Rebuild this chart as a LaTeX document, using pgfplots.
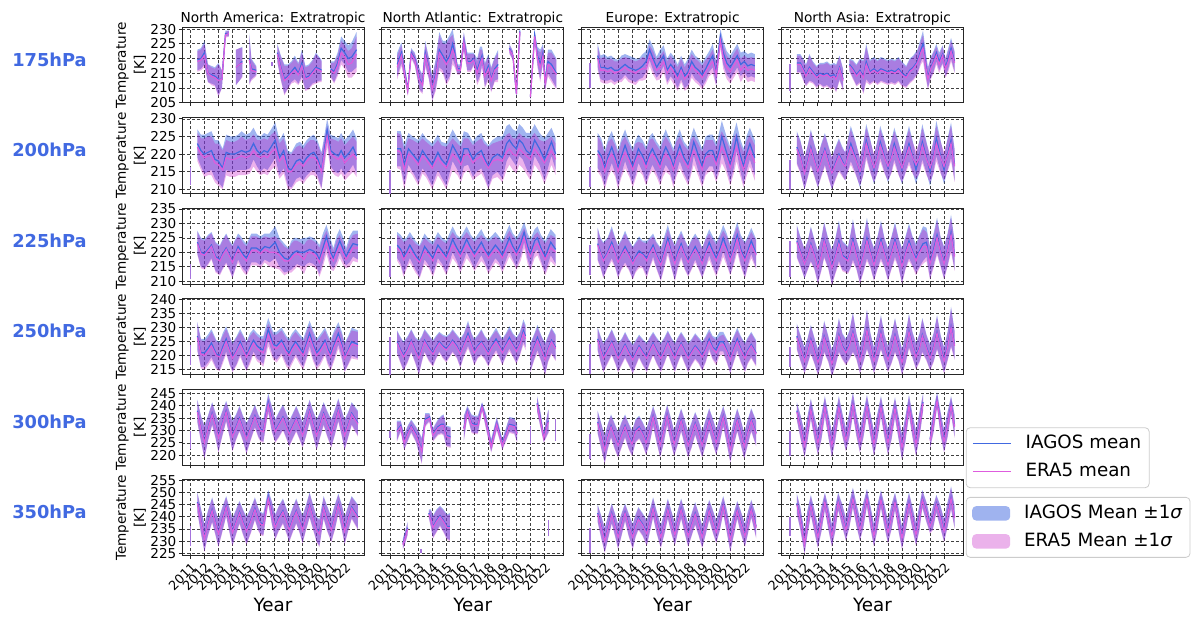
\documentclass[border=0pt]{standalone}
\usepackage{fontspec}
\setmainfont{DejaVu Sans}
\usepackage{pgfplots}
\usepackage{pgfplotstable}
\pgfplotsset{compat=1.18}
\usepgfplotslibrary{fillbetween}
\definecolor{royalblue}{RGB}{65,105,225}
\definecolor{eraline}{RGB}{222,92,222}
\definecolor{erafill}{RGB}{191,0,191}
\definecolor{spk}{RGB}{165,115,220}
\newcommand\tickfont{\fontsize{6.8pt}{8pt}\selectfont}
\newcommand\yearfont{\fontsize{6.4pt}{7pt}\selectfont}
\newcommand\titlefont{\fontsize{6.85pt}{8pt}\selectfont}
\newcommand\labfont{\fontsize{6.8pt}{9.15pt}\selectfont}
\newcommand\xlabfont{\fontsize{9.15pt}{11pt}\selectfont}
\newcommand\legfont{\fontsize{9.15pt}{11pt}\selectfont}
\newcommand\rowfont{\fontsize{8.9pt}{10pt}\selectfont\bfseries}

\newcommand{\seg}[1]{%
 \addplot[name path=ua, draw=none, forget plot] table[x=x, y expr=\thisrow{i}+\thisrow{s}] {#1};
 \addplot[name path=la, draw=none, forget plot] table[x=x, y expr=\thisrow{i}-\thisrow{s}] {#1};
 \addplot[fill=royalblue, fill opacity=0.5, forget plot] fill between[of=ua and la];
 \addplot[name path=ub, draw=none, forget plot] table[x=x, y expr=\thisrow{e}+\thisrow{s}] {#1};
 \addplot[name path=lb, draw=none, forget plot] table[x=x, y expr=\thisrow{e}-\thisrow{s}] {#1};
 \addplot[fill=erafill, fill opacity=0.3, forget plot] fill between[of=ub and lb];
 \addplot[royalblue, line width=0.6pt, forget plot] table[x=x, y=i] {#1};
 \addplot[eraline, line width=0.6pt, forget plot] table[x=x, y=e] {#1};
}
\newcommand{\spike}[3]{\addplot[spk, line width=0.8pt, forget plot] coordinates {(#1,#2) (#1,#3)};}

\pgfplotsset{
 panel/.style={
  scale only axis, width=91pt, height=37.85pt, anchor=north west,
  xmin=2010.4, xmax=2023.38,
  xtick={2011,2012,...,2022},
  xticklabels={},
  grid=major,
  major grid style={black!75, line width=0.3pt, dash pattern=on 1.5pt off 1pt},
  axis line style={black!85, line width=0.5pt},
  tick align=outside, tick pos=left, major tick length=1.6pt,
  tick style={black!85, line width=0.4pt},
  tick label style={font=\tickfont},
  /pgf/number format/assume math mode=true,
  yticklabel style={inner sep=1pt},
  every axis title/.style={at={(0.5,1)}, anchor=south, inner sep=1pt, font=\titlefont},
  every axis y label/.style={at={(axis description cs:-0.281,0.5)}, rotate=90, anchor=center, align=center, font=\labfont},
  every axis x label/.style={at={(axis description cs:0.5,-0.736)}, anchor=base, font=\xlabfont},
 },
 bottom/.style={xticklabels={2011,2012,2013,2014,2015,2016,2017,2018,2019,2020,2021,2022},
   xticklabel style={rotate=45, anchor=north east, font=\yearfont, inner sep=0.8pt}, xlabel={Year}},
 noy/.style={yticklabels={}},
 ra/.style={ymin=204.9, ymax=230.6, ytick={205,210,...,230}},
 rb/.style={ymin=208.8, ymax=230.3, ytick={210,215,...,230}},
 rc/.style={ymin=209.0, ymax=235.2, ytick={210,215,...,235}},
 rd/.style={ymin=213.2, ymax=240.3, ytick={215,220,...,240}},
 re/.style={ymin=216.0, ymax=246.6, ytick={220,225,...,245}},
 rf/.style={ymin=224.0, ymax=255.1, ytick={225,230,...,255}},
}

% ================= 175 hPa =================
\pgfplotstableread{
x i e s
2011.5 219.5 219 3.5
2011.75 220 219.5 3.5
2012.0 222 221 4
2012.25 215 215 3
2012.5 214.5 214 3
2012.75 214 213.5 3
2013.0 213 212.5 5.5
2013.25 213 213 3
2013.5 228.5 228 1
2013.75 228.5 228.5 1
}\TAax
\pgfplotstableread{
x i e s
2014.25 217 217 6
2014.5 218 218 5.5
2014.7 219 218.5 5
}\TAay
\pgfplotstableread{
x i e s
2015.2 220 219.5 8.5
2015.35 216.5 216 3.5
2015.7 216 215.5 1.5
}\TAaz
\pgfplotstableread{
x i e s
2017.2 222 221.5 3
2017.45 217 216.5 4
2017.7 213 212.5 5
2017.95 214 213.5 4
2018.2 215.5 215 3.5
2018.45 217 216 4
2018.7 215 214.5 3.5
2018.95 218.5 217.5 4.5
2019.2 213.5 213 4
2019.45 214 213.5 4
2019.7 215.5 215 4
2019.95 217 216.5 5
2020.2 216.5 216 4
2020.35 216 215.5 3.5
}\TAaw
\pgfplotstableread{
x i e s
2021.0 216.5 216 2.5
2021.25 215.5 215 3.5
2021.5 218.5 217.5 3.5
2021.75 223.5 222 4
2022.0 222 220.5 4
2022.25 220 218 4.5
2022.5 220.5 218.5 5
2022.85 223 221.5 6
}\TAav
\pgfplotstableread{
x i e s
2011.5 218 217 4
2011.8 222 221 3.5
2012.25 209.5 209 1.5
2012.5 222 221.5 1.5
2012.75 220 219.5 2
2013.1 213 212.5 3.5
2013.3 211.5 211 3
2013.5 222 221 4
2013.75 217 216.5 3.5
2014.0 210 209.5 4
2014.25 215 214 5
2014.5 223 222 6
2014.75 221 220 5
2015.0 219 218 7
2015.25 221 220 7
2015.45 225 223 5
2015.6 222 221 4
2015.8 216.5 216 1.5
2016.0 216.5 216 1.5
2016.25 226 225.5 3
2016.5 219 218.5 3
2016.75 219 218.5 3
2016.95 220 219.5 2
2017.2 216 215 4
2017.4 219 218 5
2017.55 221 220 3
2017.75 214.5 214 4
2018.0 217.5 216.5 4
2018.2 213 212.5 4
2018.45 216.5 216 4
2018.7 218 217 5
}\TBax
\pgfplotstableread{
x i e s
2019.5 223.5 223 1.5
2019.75 221 221 1.5
2020.0 208 208 1
2020.25 229.5 229 1
}\TBay
\pgfplotstableread{
x i e s
2021.0 207 207 1
2021.3 228 227.5 1.5
2021.5 221 220 3
2021.7 218 217 5
2021.9 222 221 3
2022.05 212 211.5 2.5
2022.25 219 218 4
2022.5 218 217 5
2022.85 215 214.5 5
}\TBaz
\pgfplotstableread{
x i e s
2011.55 221 220 4
2011.75 217 216 4
2012.0 217 216 4.5
2012.25 216.5 215.5 4
2012.5 217 216 4
2012.75 216 215 4
2013.0 216 215.5 3.5
2013.25 217 216 4
2013.5 218 217 3.5
2013.75 217 216 4
2014.0 216.5 215.5 4
2014.25 216 215 4
2014.5 216.5 216 3.5
2014.75 217.5 216.5 4
2015.0 219 216.5 3.5
2015.25 223 221 3.5
2015.5 220 218.5 4
2015.75 217 216 3.5
2016.0 219 217 4
2016.25 221 219 3.5
2016.5 216 215 4
2016.75 218 217 4
2017.0 216.5 215 4
2017.25 214 213 4
2017.5 217 216 4
2017.75 214 213 4
2018.0 215.5 214.5 4.5
2018.25 219 217.5 4
2018.5 217 216 4
2018.75 216 215 4
2019.0 214.5 213.5 4
2019.25 216.5 215.5 4
2019.5 219 217.5 3.5
2019.75 221 219 4
2020.0 215 214.5 4
2020.3 227.5 226 2.5
2020.5 222 220.5 4
2020.75 218.5 217 4
2021.0 217 215.5 4
2021.25 219 217.5 4
2021.5 221 219.5 4
2021.75 218 216 4
2022.0 219 217.5 3.5
2022.25 217.5 216 4
2022.5 218 216.5 4
2022.75 217.5 216 4
}\TCax
\pgfplotstableread{
x i e s
2011.5 218.5 218 3
2011.75 218.5 218 3
2012.0 216 215.5 3.5
2012.15 214.5 214 3.5
2012.4 217 216.5 4.5
2012.65 215.5 215 3.5
2012.9 214 213.5 3.5
2013.15 215 214.5 3.5
2013.4 214.5 214 4
2013.65 215 214.5 4
2013.9 214 213.5 4
2014.15 214.5 214 4
2014.3 213.5 213 4.5
2014.55 217 216.5 4
2014.8 213 212.5 3.5
}\TDax
\pgfplotstableread{
x i e s
2015.25 218 217.5 2
2015.5 216.5 216 3
2015.75 214.5 214 3.5
2016.0 216 215.5 4
2016.25 214 213.5 5.5
2016.45 219 218 6
2016.7 215.5 215 4
2017.0 216.5 216 4
2017.25 215.5 215 4
2017.5 216.5 216 4
2017.75 216 215.5 4
2018.0 215.5 215 4
2018.25 216 215.5 4
2018.5 215.5 215 4
2018.75 216.5 216 4
2019.0 215 214.5 4
2019.3 214 213.5 3.5
2019.55 216 215.5 4
2019.8 217 216.5 4
2020.1 219 218.5 4
2020.35 223 222 4
2020.5 225 223.5 4.5
2020.7 218 217 4
2020.85 213.5 213 3.5
2021.05 217 216.5 3.5
2021.25 219 218.5 3.5
2021.45 222 221 3
2021.65 219 218 3
2021.9 221.5 221 3
2022.1 217 216.5 3
2022.3 220 219 3.5
2022.5 223.5 222.5 3.5
2022.75 219 218.5 3.5
}\TDay

% ================= 200 hPa =================
\pgfplotstableread{
x i e s
2011.5 223 222 4
2011.75 221 220 4.5
2012.0 220 219 5.5
2012.25 220.5 219.5 5.5
2012.5 221 219.5 5.5
2012.75 218.5 217.5 5.5
2013.0 218 217 6
2013.3 216 215.5 5.5
2013.55 220.5 219 5
2013.85 220 218.5 5
2014.15 220 218.5 5
2014.4 220.5 219 5
2014.65 221 219.5 5.5
2014.95 220.5 219 5
2015.25 221 219.5 5
2015.5 223 221 4.5
2015.75 221 219.5 4.5
2016.0 220 219 5
2016.25 221 219.5 5
2016.5 220.5 219 5
2016.75 222 220.5 5
2017.05 224 221.5 5
2017.35 219 218 5
2017.65 221 219.5 5
2017.95 216 215 5
2018.2 215.5 215 5
2018.55 218 217 5
2018.8 218.5 217.5 5
2019.05 217.5 216.5 5
2019.3 219 218 5
2019.55 220 219 5
2019.8 220.5 219 5
2020.05 219 218 5
2020.35 215.5 215 5
2020.75 227 225 3
2021.0 221 220 4.5
2021.3 220 219 5
2021.55 219.5 218.5 5
2021.75 221 219.5 5
2022.0 219 217.5 5
2022.35 220.5 219 5
2022.6 222 220 5
2022.85 219.5 218.5 5
}\TAbx
\pgfplotstableread{
x i e s
2011.5 221.5 221 5
2011.75 221.5 220.5 5
2012.0 217 215.5 5.5
2012.3 221.5 220 4.5
2012.6 220 219 5
2013.0 218 217 6
2013.3 221 219.5 5
2013.55 219.5 218.5 5
2014.0 217 216 6
2014.4 220.5 219 5
2014.65 218.5 217.5 5
2015.0 217 216 6
2015.45 222.5 220 4.5
2015.8 220 218.5 4.5
2016.05 218 217 5
2016.25 221.5 219.5 5
2016.55 221.5 220 4.5
2016.9 218.5 217.5 5
2017.15 220 218.5 5
2017.5 221 219.5 5
2017.7 219 218 5
2018.0 216.5 216 6
2018.3 219 218 5
2018.65 220 218.5 5
2019.0 219 218 6
2019.3 223 220.5 5
2019.5 224 221.5 4.5
2019.75 222.5 220 4.5
2020.0 221.5 219.5 5
2020.2 224 221.5 4.5
2020.45 223 220.5 4.5
2020.7 221 219.5 5
2021.0 220 218.5 6
2021.3 224 221.5 4.5
2021.65 221.5 219.5 4.5
2022.0 218.5 217.5 6
2022.5 223.5 221 4
2022.8 220 218.5 4.5
}\TBbx
\pgfplotstableread{
x i e s
2011.55 221 220 5
2011.8 219.5 218.5 5
2012.05 216 215 5
2012.3 219.5 218.5 5
2012.55 222 220 4.5
2012.8 219 218 4.5
2013.0 216 215 5
2013.25 219.5 218.5 5
2013.5 222.5 220.5 4.5
2013.8 219 218 4.5
2014.05 216.5 215.5 5
2014.25 219 218 5
2014.45 221.5 219.5 4
2014.75 219.5 218.5 4.5
2015.0 217 216 5
2015.25 220 219 5
2015.45 221.5 220 4.5
2015.75 219 218 4.5
2016.0 217 216 5
2016.2 220 218.5 5
2016.4 222 220 5
2016.7 219.5 218.5 4.5
2016.95 216.5 215.5 5
2017.15 219.5 218.5 5
2017.4 222.5 220.5 4.5
2017.7 219 218 4.5
2018.0 217 216 5
2018.2 220 219 5
2018.4 223.5 221 4
2018.7 220 218.5 4.5
2019.0 216.5 215.5 5
2019.25 220 219 5
2019.5 221 219.5 4.5
2019.75 221 219.5 4.5
2020.0 218 217 5
2020.2 221 219.5 5
2020.4 225 222 4.5
2020.7 221 219.5 4.5
2021.0 217 216 5
2021.25 221 219.5 5
2021.45 225 222 4
2021.7 220 218.5 4.5
2021.95 216.5 215.5 5
2022.15 220 218.5 5
2022.4 223 221 4.5
2022.75 219 217.5 5
}\TCbx
\pgfplotstableread{
x i e s
2011.5 222 221.5 4.5
2011.75 219.5 219 4.5
2012.05 214.5 214.5 4.5
2012.3 218.5 218 4.5
2012.5 222 221.5 5
2012.75 218.5 218 4.5
2013.0 215 215 4.5
2013.25 218.5 218 4.5
2013.5 221.5 221 4.5
2013.75 218 217.5 4.5
2014.0 214.5 214.5 4.5
2014.25 217.5 217 4.5
2014.5 220 219.5 4.5
2014.75 218 217.5 4
2014.95 216.5 216.5 4
2015.15 220 219.5 4.5
2015.35 223 222 5
2015.7 219 218.5 4.5
2016.0 214.5 215 4
2016.25 219 218.5 4.5
2016.45 224 223 4.5
2016.75 219.5 219 4.5
2017.0 215.5 216 4
2017.25 219.5 219 4.5
2017.45 223.5 222.5 4.5
2017.75 219.5 219 4.5
2018.0 216 216.5 4
2018.25 219.5 219 4.5
2018.45 223 222 4.5
2018.75 219 218.5 4.5
2019.0 215.5 216 4
2019.25 219.5 219 4.5
2019.5 223 222 5
2019.75 219.5 219 4.5
2020.0 215.5 217 4
2020.25 219.5 219 4.5
2020.45 223.5 222.5 5
2020.75 219 218.5 4.5
2021.0 215 216 4
2021.25 219.5 219 4.5
2021.45 224.5 223 5
2021.75 219.5 219 4.5
2022.0 215.5 216.5 4
2022.25 220 219.5 4.5
2022.5 224 223 5
2022.75 217 216.5 4.5
}\TDbx

% ================= 225 hPa =================
\pgfplotstableread{
x i e s
2011.5 223.5 223 4
2011.75 220 219.5 5
2012.0 219.5 219 5
2012.25 221 220.5 5
2012.5 222.5 222 4.5
2012.8 218.5 218 5
2013.1 217.5 217 5
2013.3 219.5 219 5
2013.55 221.5 221 5
2013.8 219 218.5 5
2014.0 217 216.5 5.5
2014.2 219.5 219 5
2014.4 222 221 4.5
2014.6 220.5 219.5 5
2014.8 219 218 5
2015.0 218 217 5
2015.35 221.5 220.5 5
2015.7 221.5 220.5 5
2016.0 220.5 219.5 5
2016.3 222 221 4.5
2016.65 221.5 220 5
2017.05 223.5 220 5.5
2017.35 220 219 5
2017.7 218 217 5
2018.0 217.5 217 4
2018.2 219 218 5
2018.4 220 219 5
2018.6 220.5 219.5 4.5
2018.8 220 219 4.5
2019.1 220 217.5 5
2019.3 220.5 219.5 4.5
2019.5 221 220 4.5
2019.75 220.5 219.5 4.5
2020.0 219.5 218.5 4.5
2020.2 217.5 216.5 5
2020.45 221.5 220 5
2020.7 225.5 223.5 4
2021.0 220 218.5 4.5
2021.2 218 217 3.5
2021.45 221.5 220 4.5
2021.65 224 222 4
2021.9 221 219.5 4
2022.1 218.5 217.5 3
2022.35 221 219.5 4.5
2022.6 223 221.5 4.5
2022.95 222.5 221.5 5
}\TAcx
\pgfplotstableread{
x i e s
2011.5 222.5 221.5 4.5
2011.75 221 220 5
2011.95 218.5 217.5 6
2012.15 220 219 5
2012.4 222.5 221 4.5
2012.8 219 218 5
2013.1 217 216.5 5.5
2013.45 222 220.5 4.5
2013.75 220 219 4.5
2014.05 218 217 5.5
2014.4 222.5 221 4.5
2014.7 220.5 219.5 4.5
2015.0 218.5 217.5 5.5
2015.45 224.5 222.5 4.5
2015.75 221.5 220.5 4.5
2016.0 219.5 218.5 5.5
2016.45 224.5 222.5 4.5
2016.75 221.5 220.5 4.5
2017.0 219.5 218.5 5
2017.5 223.5 221.5 4.5
2017.75 221 220 4.5
2018.0 219 218 5.5
2018.5 222.5 221 4.5
2018.75 221 220 4.5
2019.0 219 218 5
2019.5 225 223 4.5
2019.75 222 221 4.5
2020.0 220 219 5
2020.3 223 221.5 4.5
2020.55 227 225 3.5
2020.8 222 220.5 4.5
2021.0 219.5 218.5 5
2021.3 224 222 4
2021.5 225 223 4
2021.75 221.5 220.5 4.5
2022.05 218.5 217.5 5.5
2022.45 223.5 221.5 4.5
2022.8 221 220 5
}\TBcx
\pgfplotstableread{
x i e s
2011.55 223 222.5 5.5
2011.75 220 219.5 5
2011.95 217.5 217 6
2012.25 220 219.5 5
2012.55 223.5 222.5 5.5
2012.8 220 219.5 5
2013.0 217 216.5 5.5
2013.25 219.5 219 5
2013.5 222 221 5.5
2013.75 219.5 219 5
2014.05 216.5 216 5.5
2014.25 218.5 218 5
2014.5 220.5 219.5 5
2014.75 219.5 219 4.5
2015.05 218 217 6
2015.25 220 219.5 5
2015.5 222.5 221.5 4
2015.75 219 218.5 4.5
2016.05 216 215.5 5.5
2016.3 220.5 219.5 5
2016.55 225 223.5 4.5
2016.8 220 219.5 5
2017.05 216.5 216 6
2017.25 220 219 5
2017.5 223 222 4.5
2017.75 219.5 219 5
2018.0 217 216.5 5
2018.25 219.5 219 5
2018.5 222 221 4.5
2018.75 219.5 219 5
2019.0 216.5 216 5
2019.25 220 219.5 5
2019.5 223.5 222 4.5
2019.75 220.5 219.5 5
2020.0 218 217 5.5
2020.25 221 220 5
2020.5 225 223 4.5
2020.75 221.5 220.5 5
2021.0 217.5 217 5
2021.25 221.5 220.5 5
2021.5 226 224.5 4.5
2021.75 221 220 5
2022.05 217.5 217 6
2022.25 220.5 219.5 5
2022.5 224 222.5 4.5
2022.85 219.5 219 5
}\TCcx
\pgfplotstableread{
x i e s
2011.5 224 223.5 5.5
2011.75 220.5 220 5
2012.05 216 216 5
2012.3 219.5 219 5
2012.5 223 222.5 6
2012.75 219.5 219 5
2013.0 215 214.5 5.5
2013.25 219.5 219 5.5
2013.45 224.5 224 6
2013.75 219.5 219 5
2014.0 215 214.5 6
2014.25 219 218.5 6
2014.5 224 223 7
2014.75 219 218.5 5
2015.15 217.5 217 4.5
2015.35 221 220.5 6
2015.5 224.5 223.5 7
2015.75 219.5 219 5
2016.0 215 214.5 5.5
2016.25 219.5 219 6
2016.5 225 224 7
2016.75 220 219.5 5
2017.0 216 215.5 5.5
2017.25 220 219.5 5.5
2017.5 224.5 223.5 6.5
2017.75 220 219.5 5
2018.0 216 215.5 5.5
2018.25 220 219.5 5.5
2018.5 224.5 223.5 6
2018.75 220 219.5 5
2019.0 215.5 215 6
2019.25 220 219.5 5.5
2019.5 224 223 6
2019.75 220.5 220 5
2020.0 218 217 5
2020.25 220.5 220 5.5
2020.5 223 222 6
2020.75 223.5 222 5
2021.0 216.5 216 5.5
2021.25 221 220 5.5
2021.5 226 225 6
2021.75 220.5 220 5
2022.0 216.5 216 5.5
2022.25 221 220.5 5.5
2022.5 227 226 6
2022.75 219 218.5 5
}\TDcx

% ================= 250 hPa =================
\pgfplotstableread{
x i e s
2011.5 227 226.5 5
2011.75 221 220.5 5
2012.0 221 220 5
2012.25 222.5 221.5 5
2012.5 224.5 223.5 5
2012.85 220.5 220 5
2013.1 220 219.5 5
2013.3 223 222 5
2013.55 226 225 4.5
2013.8 222 221.5 5
2014.0 219.5 219 5
2014.3 222 221.5 5
2014.55 225 224 4.5
2014.8 222 221.5 5
2015.0 220 219.5 5
2015.25 223 222 5
2015.5 225.5 224.5 4
2015.75 223.5 222.5 4.5
2016.0 222.5 221.5 4.5
2016.2 222 221 5
2016.55 229.5 227.5 4
2016.9 224 223 4.5
2017.15 223.5 222.5 5
2017.5 225.5 224.5 4.5
2017.85 222 221 5
2018.05 221 220 5
2018.25 223 222 5
2018.5 225 224 4.5
2018.9 222 221 5
2019.05 221 220 5
2019.25 224 223 5
2019.5 228 226.5 4.5
2019.75 224 223 5
2020.0 221 220 5
2020.25 222.5 221.5 5
2020.6 225.5 224.5 4.5
2020.8 222.5 221.5 5
2021.0 220.5 219.5 5
2021.25 224 223 5
2021.55 228 226.5 4
2021.8 224 223 4.5
2022.0 219.5 219 5
2022.25 222 221.5 5
2022.5 225 224 5
2022.95 224 223.5 5
}\TAdx
\pgfplotstableread{
x i e s
2011.5 225 224.5 4
2011.75 222 221.5 4.5
2011.95 220 219.5 5
2012.25 222.5 222 4.5
2012.5 225.5 225 4
2012.8 222 221.5 4.5
2013.05 219.5 219 6
2013.25 222.5 222 4.5
2013.45 225.5 225 4
2013.75 223 222.5 4.5
2014.05 221 220.5 4.5
2014.25 223 222.5 4
2014.5 225 224.5 3.5
2014.75 223.5 223 4
2015.0 222.5 222 4.5
2015.25 224 223.5 4
2015.45 225.5 225 4
2015.75 223.5 223 4
2016.0 221 220.5 5
2016.25 224 223.5 4
2016.55 228 227 4.5
2016.8 224 223.5 4
2017.0 221.5 221 4.5
2017.25 223.5 223 4
2017.5 225 224.5 4.5
2017.75 223 222.5 4
2018.0 221 220.5 4.5
2018.25 223.5 223 4
2018.55 226 225 4
2018.8 223.5 223 4
2019.0 221.5 221 4.5
2019.25 224 223.5 4
2019.5 226.5 225.5 4
2019.75 224 223.5 4
2020.0 222 221.5 4.5
2020.25 224.5 224 4
2020.5 229 228 4
2020.65 227 226 4
}\TBdx
\pgfplotstableread{
x i e s
2021.0 219.5 219 5
2021.25 223 222.5 4.5
2021.5 226.5 225.5 4.5
2021.75 223 222.5 4.5
2022.05 219 218.5 5.5
2022.25 222.5 222 4.5
2022.5 225.5 225 4.5
2022.8 223 222.5 4.5
}\TBdy
\pgfplotstableread{
x i e s
2011.55 226 225.5 4
2011.75 222.5 222 4.5
2011.95 219.5 219 5
2012.25 222 221.5 4.5
2012.55 225 224.5 4.5
2012.8 222 221.5 4.5
2013.0 219.5 219 5
2013.25 221.5 221 4.5
2013.5 224 223.5 4.5
2013.75 221.5 221 4.5
2014.05 219 218.5 5
2014.25 221 220.5 4.5
2014.5 223.5 223 4
2014.75 221.5 221 4.5
2015.05 219.5 219 5
2015.25 222 221.5 4.5
2015.5 224.5 224 4
2015.75 222 221.5 4.5
2016.05 219.5 219 5
2016.3 222 221.5 4.5
2016.55 225 224.5 4
2016.8 222 221.5 4.5
2017.05 219.5 219 5
2017.25 222 221.5 4.5
2017.5 224.5 224 4
2017.75 222 221.5 4.5
2018.0 219.5 219 5
2018.25 221.5 221 4.5
2018.5 223.5 223 4.5
2018.75 222 221.5 4.5
2019.0 220 219.5 5
2019.25 222.5 222 4.5
2019.5 226 225 3.5
2019.75 223 222.5 4
2020.0 222 221 4.5
2020.25 225 223.5 3.5
2020.5 225 224 3.5
2020.75 222 221.5 4
2021.0 219 218.5 5
2021.25 222.5 222 4.5
2021.5 226 225 4
2021.75 222.5 222 4.5
2022.05 219.5 219 5
2022.25 222 221.5 4.5
2022.5 224 223.5 4.5
2022.85 221 220.5 4.5
}\TCdx
\pgfplotstableread{
x i e s
2011.5 227 226.5 4.5
2011.75 223 222.5 4.5
2012.05 218.5 218 4.5
2012.25 221.5 221 4.5
2012.5 226 225.5 5
2012.75 222 221.5 4.5
2013.0 218 217.5 4.5
2013.25 221.5 221 4.5
2013.45 227 226.5 5.5
2013.75 222.5 222 4.5
2014.0 217.5 217 4.5
2014.25 221.5 221 5
2014.5 227.5 227 6
2014.75 223.5 223 4.5
2015.0 221.5 221 4.5
2015.25 224 223.5 5
2015.5 228.5 228 7
2015.75 223.5 223 4.5
2016.0 218.5 218 4.5
2016.25 223 222.5 5
2016.5 229.5 229 7
2016.75 223.5 223 4.5
2017.0 218.5 218 4.5
2017.25 223 222.5 5
2017.5 228.5 228 6
2017.75 223 222.5 4.5
2018.0 219 218.5 4.5
2018.25 222.5 222 5
2018.5 227.5 227 6
2018.75 223 222.5 4.5
2019.0 218 217.5 4.5
2019.25 222.5 222 5
2019.5 229 228.5 6
2019.75 224 223.5 4.5
2020.0 220 219.5 4.5
2020.25 223 222.5 5
2020.45 227.5 227 6
2020.75 223 222.5 4.5
2021.0 219.5 219 4.5
2021.25 223 222.5 5
2021.5 228.5 228 6
2021.75 223 222.5 4.5
2022.0 218.5 218 4.5
2022.25 223.5 223 5
2022.5 230.5 230 7
2022.75 224 223.5 5
}\TDdx

% ================= 300 hPa =================
\pgfplotstableread{
x i e s
2011.5 238 237.5 4.5
2011.75 231 230.5 5
2012.0 225.5 225 6.5
2012.25 231 230.5 5
2012.55 237 236.5 4.5
2012.8 232 231.5 5
2013.0 227.5 227 6
2013.25 232.5 232 5
2013.55 238 237.5 4
2013.8 232.5 232 5
2014.0 228 227.5 6
2014.25 231.5 231 5
2014.5 235 234.5 5
2014.75 231 230.5 5
2015.0 227 226.5 6
2015.3 231.5 231 5
2015.6 236 235.5 4.5
2015.85 232 231.5 4.5
2016.0 230.5 230 4.5
2016.2 230 229.5 4.5
2016.55 241.5 240.5 3.5
2016.8 235 234.5 5
2017.05 230 229.5 4.5
2017.3 232.5 232 5
2017.6 235.5 235 5
2017.85 232 231.5 5
2018.05 229 228.5 5
2018.3 232 231.5 5
2018.55 235 234.5 5
2018.8 231.5 231 5
2019.0 228.5 228 5
2019.25 233 232.5 5
2019.5 238 237.5 4.5
2019.75 233 232.5 5
2020.0 228.5 228 6
2020.25 232.5 232 5
2020.5 237 236.5 4.5
2020.75 233 232.5 5
2021.05 229 228.5 5.5
2021.3 233.5 233 5
2021.55 238.5 238 4.5
2021.8 233 232.5 5
2022.0 228.5 228 6
2022.25 232.5 232 5
2022.5 237 236.5 4.5
2022.95 233 232.5 5
}\TAex
\pgfplotstableread{
x i e s
2011.48 230 229.5 4
2011.75 232 231.5 2
2012.0 225.5 225 3
2012.25 229 228.5 3
2012.5 232 231.5 2.5
2012.85 228.5 228 3
2013.1 224.5 224 4.5
2013.25 222 221.5 5
2013.5 234.5 234 2.5
2013.8 235.5 235 1.5
2014.05 228.5 228 2.5
2014.4 231.5 231 3
2014.65 232.5 232 3.5
2014.8 232.5 232 4
2015.0 228 227.5 4
2015.3 227.5 227 4
}\TBex
\pgfplotstableread{
x i e s
2016.25 231 230.5 5
2016.5 238 237.5 2
2016.8 233 232.5 3.5
2017.0 232.5 232 3.5
2017.25 232.5 232 3.5
2017.55 240 239.5 1.5
2017.85 233.5 233 3
2018.2 224 223.5 2.5
2018.6 233 232.5 2.5
2019.0 224.5 224 2
2019.5 232.5 232 3
2019.85 232 231.5 3
2020.05 229 228.5 3.5
}\TBey
\pgfplotstableread{
x i e s
2021.47 241 240.5 3
2021.7 235 234.5 3
2021.95 227.5 227 2
2022.25 233.5 233 4.5
2022.3 234 233.5 4.5
}\TBez
\pgfplotstableread{
x i e s
2011.55 233.5 233 4.5
2011.8 228 227.5 5
2012.05 222.5 222 5.5
2012.25 227.5 227 5
2012.5 232 231.5 4.5
2012.75 228 227.5 5
2013.0 224.5 224 5
2013.25 228.5 228 5
2013.5 232 231.5 4.5
2013.75 228 227.5 5
2014.0 225 224.5 5
2014.25 230 229.5 4.5
2014.5 231.5 231 4.5
2014.75 229 228.5 4.5
2015.0 225.5 225 5
2015.25 230 229.5 5
2015.5 236 235.5 4
2015.75 230.5 230 5
2016.0 224.5 224 5
2016.25 230 229.5 5
2016.5 236.5 236 4
2016.75 230.5 230 5
2017.0 225 224.5 5
2017.25 229.5 229 5
2017.5 234.5 234 4.5
2017.75 229.5 229 5
2018.0 224.5 224 5
2018.25 228.5 228 5
2018.5 233 232.5 4.5
2018.75 229 228.5 5
2019.0 224.5 224 5
2019.25 229.5 229 5
2019.5 234.5 234 4.5
2019.75 230 229.5 5
2020.0 225.5 225 5
2020.25 230.5 230 5
2020.5 236 235.5 4
2020.75 230 229.5 5
2021.0 222.5 222 5
2021.25 229 228.5 5
2021.5 234.5 234 4.5
2021.75 229.5 229 5
2022.0 224 223.5 5
2022.25 229.5 229 5
2022.5 234.5 234 4.5
2022.85 229 228.5 5
}\TCex
\pgfplotstableread{
x i e s
2011.5 238 237.5 3.5
2011.75 232 231.5 4.5
2012.05 224.5 224 5
2012.25 230.5 230 5
2012.5 239 238.5 4
2012.75 231.5 231 4.5
2013.0 225.5 225 5
2013.25 231.5 231 5
2013.5 240 239.5 4
2013.75 232 231.5 4.5
2014.0 224.5 224 5
2014.25 231.5 231 5
2014.5 240 239.5 4
2014.75 232.5 232 4.5
2015.0 226.5 226 4.5
2015.25 232.5 232 5
2015.5 241 240.5 4.5
2015.75 232.5 232 4.5
2016.0 226 225.5 4.5
2016.25 232.5 232 5
2016.5 240.5 240 4
2016.75 232.5 232 4.5
2017.0 225 224.5 5
2017.25 232 231.5 5
2017.5 240 239.5 4
2017.75 232 231.5 4.5
2018.0 225.5 225 5
2018.25 231.5 231 5
2018.5 239.5 239 4
2018.75 231.5 231 4.5
2019.0 223.5 223 5
2019.25 231 230.5 5
2019.5 240.5 240 4
2019.75 232 231.5 4.5
2020.0 225 224.5 5
2020.25 232.5 232 5
2020.5 241.5 241 3.5
}\TDex
\pgfplotstableread{
x i e s
2021.0 226.5 226 3.5
2021.25 234 233.5 4.5
2021.5 242.5 242 3
2021.75 233 232.5 4.5
2022.0 226 225.5 4.5
2022.25 232.5 232 5
2022.5 240.5 240 3.5
2022.75 232 231.5 4.5
}\TDey

% ================= 350 hPa =================
\pgfplotstableread{
x i e s
2011.5 246 245.5 4
2011.75 238.5 238 5
2012.0 231.5 231 5.5
2012.25 237.5 237 5
2012.55 243 242.5 5
2012.8 237.5 237 5
2013.0 233.5 233 5.5
2013.25 238.5 238 5
2013.55 244.5 244 4
2013.8 238.5 238 5
2014.0 234 233.5 5.5
2014.25 238 237.5 5
2014.5 242 241.5 4.5
2014.75 238 237.5 5
2015.0 234.5 234 5.5
2015.3 238.5 238 5
2015.6 243.5 243 4.5
2015.85 239 238.5 4.5
2016.0 237.5 237 4.5
2016.2 237 236.5 4.5
2016.55 248.5 247.5 2.5
2016.8 242 241.5 4.5
2017.05 236 235.5 5
2017.3 239.5 239 5
2017.6 242.5 242 5
2017.85 238.5 238 5
2018.05 235 234.5 5
2018.3 239 238.5 5
2018.55 242.5 242 5
2018.8 238.5 238 5
2019.0 235 234.5 5.5
2019.25 240 239.5 5
2019.5 245 244.5 5
2019.75 240 239.5 5
2020.0 235 234.5 5
2020.2 233.5 233 5.5
2020.5 244 243.5 4.5
2020.75 239.5 239 5
2021.05 235 234.5 5
2021.3 240 239.5 5
2021.55 245.5 245 4
2021.8 240 239.5 5
2022.0 234.5 234 5.5
2022.25 239.5 239 5
2022.5 244 243.5 4.5
2022.95 240 239.5 5
}\TAfx
\pgfplotstableread{
x i e s
2011.9 229 228.5 2
2012.05 231.5 231 2.5
2012.25 235.5 235 2.5
}\TBfx
\pgfplotstableread{
x i e s
2013.75 241.5 241 1.5
2013.9 239.5 239 3.5
2014.05 236 235.5 4.5
2014.3 238.5 238 4.5
2014.55 240.5 240 4
2014.8 238.5 238 4.5
2015.05 236 235.5 5
2015.25 236 235.5 5.5
}\TBfy
\pgfplotstableread{
x i e s
2011.55 241.5 241 3.5
2011.8 236 235.5 4.5
2012.05 230.5 230 5
2012.3 236 235.5 4.5
2012.55 241.5 241 4
2012.8 236.5 236 4.5
2013.0 232 231.5 5
2013.25 237 236.5 4.5
2013.5 242 241.5 3.5
2013.75 237 236.5 4.5
2014.05 232 231.5 5
2014.25 236.5 236 4.5
2014.45 239.5 239 4.5
2014.75 237 236.5 4.5
2015.05 233.5 233 5
2015.25 238 237.5 4.5
2015.5 244 243.5 4
2015.75 238 237.5 4.5
2016.05 232 231.5 4.5
2016.3 237.5 237 4.5
2016.55 243.5 243 4
2016.8 238 237.5 4.5
2017.05 233 232.5 4.5
2017.25 238 237.5 4.5
2017.5 243.5 243 4
2017.75 238 237.5 4.5
2018.0 232.5 232 4.5
2018.25 237 236.5 4.5
2018.5 241.5 241 4.5
2018.75 237 236.5 4.5
2019.0 232 231.5 4.5
2019.25 237.5 237 4.5
2019.5 243 242.5 4
2019.75 238.5 238 4.5
2020.0 234 233.5 4.5
2020.25 239 238.5 4.5
2020.5 245 244.5 3.5
2020.75 238.5 238 4.5
2021.0 231 230.5 5
2021.25 237 236.5 4.5
2021.5 243 242.5 3.5
2021.75 238 237.5 4.5
2022.05 232.5 232 4.5
2022.25 237.5 237 4.5
2022.5 243.5 243 3.5
2022.85 236 235.5 4.5
}\TCfx
\pgfplotstableread{
x i e s
2011.5 245.5 245 4
2011.75 239.5 239 4.5
2012.05 229.5 229 4.5
2012.25 237.5 237 5
2012.5 245 244.5 4
2012.75 238.5 238 4.5
2013.0 232 231.5 4.5
2013.25 239 238.5 5
2013.5 246.5 246 3.5
2013.75 239.5 239 4.5
2014.0 232.5 232 4.5
2014.25 239.5 239 5
2014.45 246.5 246 3.5
2014.75 240.5 240 4.5
2015.0 235 234.5 4.5
2015.25 241 240.5 5
2015.5 248 247.5 4
2015.75 241 240.5 4.5
2016.0 235 234.5 4.5
2016.25 241 240.5 5
2016.5 248 247.5 3.5
2016.75 240 239.5 4.5
2017.0 232.5 232 4.5
2017.25 240 239.5 5
2017.5 247.5 247 3.5
2017.75 240.5 240 4.5
2018.0 234 233.5 4.5
2018.25 240 239.5 5
2018.5 246.5 246 3.5
2018.75 239 238.5 4.5
2019.0 231.5 231 4.5
2019.25 239 238.5 5
2019.5 246 245.5 4
2019.75 239.5 239 4.5
2020.0 233 232.5 4.5
2020.25 240 239.5 5
2020.45 247.5 247 3.5
2020.75 242 241.5 4
2021.0 236.5 236 3
2021.2 239.5 239 4.5
2021.45 245.5 245 3.5
2021.75 240 239.5 4.5
2022.0 234.5 234 4.5
2022.25 241 240.5 5
2022.5 248 247.5 4.5
2022.75 240 239.5 4.5
}\TDfx

\begin{document}
\begin{tikzpicture}

% ---------- row 1: 175 hPa ----------
\begin{axis}[panel, ra, at={(91pt,-13.65pt)}, title={North America: Extratropic}, ylabel={Temperature\\{}[K]}]
\seg{\TAax}\seg{\TAay}\seg{\TAaz}\seg{\TAaw}\seg{\TAav}
\spike{2016.8}{217.3}{218.7}
\end{axis}
\begin{axis}[panel, ra, noy, at={(190.9pt,-13.65pt)}, title={North Atlantic: Extratropic}]
\seg{\TBax}\seg{\TBay}\seg{\TBaz}
\end{axis}
\begin{axis}[panel, ra, noy, at={(290.8pt,-13.65pt)}, title={Europe: Extratropic}]
\seg{\TCax}
\spike{2011}{210.1}{218.5}
\end{axis}
\begin{axis}[panel, ra, noy, at={(390.7pt,-13.65pt)}, title={North Asia: Extratropic}]
\seg{\TDax}\seg{\TDay}
\spike{2011}{209}{218}
\end{axis}

% ---------- row 2: 200 hPa ----------
\begin{axis}[panel, rb, at={(91pt,-58.92pt)}, ylabel={Temperature\\{}[K]}]
\seg{\TAbx}
\spike{2011}{211.3}{216.3}
\end{axis}
\begin{axis}[panel, rb, noy, at={(190.9pt,-58.92pt)}]
\seg{\TBbx}
\spike{2011}{208}{215.4}
\end{axis}
\begin{axis}[panel, rb, noy, at={(290.8pt,-58.92pt)}]
\seg{\TCbx}
\spike{2011}{210.7}{216.3}
\end{axis}
\begin{axis}[panel, rb, noy, at={(390.7pt,-58.92pt)}]
\seg{\TDbx}
\spike{2011}{209.7}{218.2}
\end{axis}

% ---------- row 3: 225 hPa ----------
\begin{axis}[panel, rc, at={(91pt,-104.19pt)}, ylabel={Temperature\\{}[K]}]
\seg{\TAcx}
\spike{2011}{210.8}{215.9}
\end{axis}
\begin{axis}[panel, rc, noy, at={(190.9pt,-104.19pt)}]
\seg{\TBcx}
\spike{2011}{211.4}{222.1}
\end{axis}
\begin{axis}[panel, rc, noy, at={(290.8pt,-104.19pt)}]
\seg{\TCcx}
\spike{2011}{212}{222.6}
\end{axis}
\begin{axis}[panel, rc, noy, at={(390.7pt,-104.19pt)}]
\seg{\TDcx}
\spike{2011}{211.4}{223.8}
\end{axis}

% ---------- row 4: 250 hPa ----------
\begin{axis}[panel, rd, at={(91pt,-149.46pt)}, ylabel={Temperature\\{}[K]}]
\seg{\TAdx}
\spike{2011}{216.5}{223.7}
\end{axis}
\begin{axis}[panel, rd, noy, at={(190.9pt,-149.46pt)}]
\seg{\TBdx}\seg{\TBdy}
\spike{2011}{212}{226.7}
\end{axis}
\begin{axis}[panel, rd, noy, at={(290.8pt,-149.46pt)}]
\seg{\TCdx}
\spike{2011}{213.5}{224.3}
\end{axis}
\begin{axis}[panel, rd, noy, at={(390.7pt,-149.46pt)}]
\seg{\TDdx}
\spike{2011}{215.9}{223.1}
\end{axis}

% ---------- row 5: 300 hPa ----------
\begin{axis}[panel, re, at={(91pt,-194.73pt)}, ylabel={Temperature\\{}[K]}]
\seg{\TAex}
\spike{2011}{222.4}{229.8}
\end{axis}
\begin{axis}[panel, re, noy, at={(190.9pt,-194.73pt)}]
\seg{\TBex}\seg{\TBey}\seg{\TBez}
\spike{2011}{227.1}{229.8}
\spike{2021.0}{224.4}{231.8}
\spike{2022.8}{225.8}{234.5}
\end{axis}
\begin{axis}[panel, re, noy, at={(290.8pt,-194.73pt)}]
\seg{\TCex}
\spike{2011}{218.4}{228.5}
\end{axis}
\begin{axis}[panel, re, noy, at={(390.7pt,-194.73pt)},
  legend style={at={(1.013,0.5)}, anchor=north west, font=\legfont, draw=black!20, fill=white,
    rounded corners=2pt, inner xsep=3pt, inner ysep=2.7pt, row sep=3.4pt,
    nodes={inner sep=1pt, text height=6.8pt, text depth=1.8pt},
    /tikz/every odd column/.append style={column sep=6pt}},
  legend cell align=left]
\seg{\TDex}\seg{\TDey}
\spike{2011}{219.7}{229.8}
\addlegendimage{legend image code/.code={\draw[royalblue, line width=0.75pt] (0pt,0pt) -- (19pt,0pt);}}
\addlegendentry{IAGOS mean}
\addlegendimage{legend image code/.code={\draw[eraline, line width=0.75pt] (0pt,0pt) -- (19pt,0pt);}}
\addlegendentry{ERA5 mean}
\end{axis}

% ---------- row 6: 350 hPa ----------
\begin{axis}[panel, rf, bottom, at={(91pt,-240pt)}, ylabel={Temperature\\{}[K]}]
\seg{\TAfx}
\spike{2011}{227.8}{236}
\end{axis}
\begin{axis}[panel, rf, noy, bottom, at={(190.9pt,-240pt)}]
\seg{\TBfx}\seg{\TBfy}
\spike{2013.2}{225.3}{226.8}
\spike{2022.3}{231.9}{238.7}
\end{axis}
\begin{axis}[panel, rf, noy, bottom, at={(290.8pt,-240pt)}]
\seg{\TCfx}
\spike{2011}{225}{235.3}
\end{axis}
\begin{axis}[panel, rf, noy, bottom, at={(390.7pt,-240pt)},
  legend style={at={(1.013,0.776)}, anchor=north west, font=\legfont, draw=black!20, fill=white,
    rounded corners=2pt, inner xsep=3pt, inner ysep=2.7pt, row sep=3.4pt,
    nodes={inner sep=1pt, text height=6.8pt, text depth=1.8pt},
    /tikz/every odd column/.append style={column sep=6pt}},
  legend cell align=left]
\seg{\TDfx}
\spike{2011}{231.9}{240}
\addlegendimage{legend image code/.code={\path[draw=none, fill=royalblue, fill opacity=0.5] (0pt,-3.6pt) rectangle (19pt,3.6pt);}}
\addlegendentry{IAGOS Mean ±1{\itshape σ}}
\addlegendimage{legend image code/.code={\path[draw=none, fill=erafill, fill opacity=0.3] (0pt,-3.6pt) rectangle (19pt,3.6pt);}}
\addlegendentry{ERA5 Mean ±1{\itshape σ}}
\end{axis}

% ---------- row labels ----------
\foreach \lab/\yy in {175hPa/29.83, 200hPa/75.1, 225hPa/120.37, 250hPa/165.64, 300hPa/210.91, 350hPa/256.18}
  \node[font=\rowfont, text=royalblue, inner sep=0pt] at (24.75pt,-\yy pt) {\lab};

\pgfresetboundingbox
\path[use as bounding box] (0pt,0pt) rectangle (600pt,-309.5pt);
\end{tikzpicture}
\end{document}
